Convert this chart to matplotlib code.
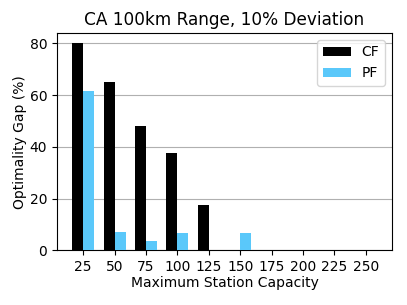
import matplotlib
matplotlib.use("Agg")
import matplotlib.pyplot as plt
import numpy as np

capacities = [25, 50, 75, 100, 125, 150, 175, 200, 225, 250]
cf_gap = [80.0, 65.0, 47.9, 37.7, 17.5, 0, 0, 0, 0, 0]
pf_gap = [61.6, 7.0, 3.7, 6.8, 0, 6.7, 0, 0, 0, 0]

fig = plt.figure(figsize=(4.07, 3.05), dpi=100)
ax = fig.add_axes([0.14, 0.179, 0.823, 0.713])
w = 8.75
x = np.array(capacities, dtype=float)
ax.bar(x - w / 2, cf_gap, width=w, color="black", label="CF", zorder=3)
ax.bar(x + w / 2, pf_gap, width=w, color="#5ac8fa", label="PF", zorder=3)
ax.set_xticks(capacities)
ax.set_yticks([0, 20, 40, 60, 80])
ax.yaxis.grid(True, color="#b0b0b0", linewidth=0.8, zorder=0)
ax.set_axisbelow(True)
ax.tick_params(labelsize=10)
ax.set_xlabel("Maximum Station Capacity", fontsize=10, labelpad=1)
ax.set_ylabel("Optimality Gap (%)", fontsize=10, labelpad=2)
ax.set_title("CA 100km Range, 10% Deviation", fontsize=12.2)
ax.legend(loc="upper right", fontsize=10)
fig.savefig("out.png", dpi=100)
